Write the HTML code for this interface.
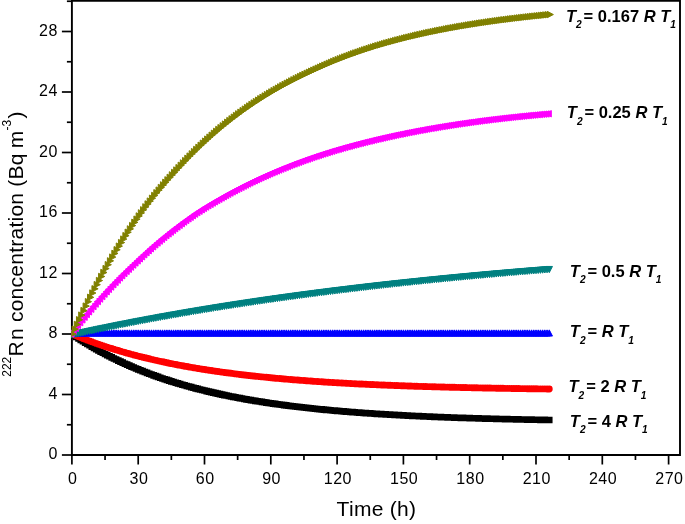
<!DOCTYPE html>
<html><head><meta charset="utf-8"><title>Rn concentration</title>
<style>html,body{margin:0;padding:0;background:#fff}svg{display:block}</style></head>
<body>
<svg width="685" height="524" viewBox="0 0 685 524">
<rect width="685" height="524" fill="#fff"/>
<g stroke="#000" stroke-width="1.9" fill="none" stroke-linecap="butt">
<path d="M71.9 455.95V0.8H680.0V455.0H70.95"/>
<path stroke-width="1.7" d="M71.9 455.00h-10"/>
<path stroke-width="1.7" d="M71.9 424.75h-5"/>
<path stroke-width="1.7" d="M71.9 394.50h-10"/>
<path stroke-width="1.7" d="M71.9 364.25h-5"/>
<path stroke-width="1.7" d="M71.9 334.00h-10"/>
<path stroke-width="1.7" d="M71.9 303.75h-5"/>
<path stroke-width="1.7" d="M71.9 273.50h-10"/>
<path stroke-width="1.7" d="M71.9 243.25h-5"/>
<path stroke-width="1.7" d="M71.9 213.00h-10"/>
<path stroke-width="1.7" d="M71.9 182.75h-5"/>
<path stroke-width="1.7" d="M71.9 152.50h-10"/>
<path stroke-width="1.7" d="M71.9 122.25h-5"/>
<path stroke-width="1.7" d="M71.9 92.00h-10"/>
<path stroke-width="1.7" d="M71.9 61.75h-5"/>
<path stroke-width="1.7" d="M71.9 31.50h-10"/>
<path stroke-width="1.7" d="M71.9 1.25h-5"/>
<path stroke-width="1.7" d="M71.90 455.0v9.5"/>
<path stroke-width="1.7" d="M71.90 0.8v-9.5"/>
<path stroke-width="1.7" d="M105.05 455.0v5"/>
<path stroke-width="1.7" d="M105.05 0.8v-5"/>
<path stroke-width="1.7" d="M138.20 455.0v9.5"/>
<path stroke-width="1.7" d="M138.20 0.8v-9.5"/>
<path stroke-width="1.7" d="M171.35 455.0v5"/>
<path stroke-width="1.7" d="M171.35 0.8v-5"/>
<path stroke-width="1.7" d="M204.50 455.0v9.5"/>
<path stroke-width="1.7" d="M204.50 0.8v-9.5"/>
<path stroke-width="1.7" d="M237.65 455.0v5"/>
<path stroke-width="1.7" d="M237.65 0.8v-5"/>
<path stroke-width="1.7" d="M270.80 455.0v9.5"/>
<path stroke-width="1.7" d="M270.80 0.8v-9.5"/>
<path stroke-width="1.7" d="M303.95 455.0v5"/>
<path stroke-width="1.7" d="M303.95 0.8v-5"/>
<path stroke-width="1.7" d="M337.10 455.0v9.5"/>
<path stroke-width="1.7" d="M337.10 0.8v-9.5"/>
<path stroke-width="1.7" d="M370.25 455.0v5"/>
<path stroke-width="1.7" d="M370.25 0.8v-5"/>
<path stroke-width="1.7" d="M403.40 455.0v9.5"/>
<path stroke-width="1.7" d="M403.40 0.8v-9.5"/>
<path stroke-width="1.7" d="M436.55 455.0v5"/>
<path stroke-width="1.7" d="M436.55 0.8v-5"/>
<path stroke-width="1.7" d="M469.70 455.0v9.5"/>
<path stroke-width="1.7" d="M469.70 0.8v-9.5"/>
<path stroke-width="1.7" d="M502.85 455.0v5"/>
<path stroke-width="1.7" d="M502.85 0.8v-5"/>
<path stroke-width="1.7" d="M536.00 455.0v9.5"/>
<path stroke-width="1.7" d="M536.00 0.8v-9.5"/>
<path stroke-width="1.7" d="M569.15 455.0v5"/>
<path stroke-width="1.7" d="M569.15 0.8v-5"/>
<path stroke-width="1.7" d="M602.30 455.0v9.5"/>
<path stroke-width="1.7" d="M602.30 0.8v-9.5"/>
<path stroke-width="1.7" d="M635.45 455.0v5"/>
<path stroke-width="1.7" d="M635.45 0.8v-5"/>
<path stroke-width="1.7" d="M668.60 455.0v9.5"/>
<path stroke-width="1.7" d="M668.60 0.8v-9.5"/>
</g>
<defs><clipPath id="pc"><rect x="71.2" y="0" width="608.8" height="455.0"/></clipPath></defs>
<path fill="#000000" stroke="#000000" stroke-width="0" stroke-linejoin="round" clip-path="url(#pc)" d="M68.60 330.70h6.6v6.6h-6.6zM70.81 332.20h6.6v6.6h-6.6zM73.02 333.66h6.6v6.6h-6.6zM75.23 335.11h6.6v6.6h-6.6zM77.44 336.53h6.6v6.6h-6.6zM79.65 337.93h6.6v6.6h-6.6zM81.86 339.30h6.6v6.6h-6.6zM84.07 340.65h6.6v6.6h-6.6zM86.28 341.97h6.6v6.6h-6.6zM88.49 343.28h6.6v6.6h-6.6zM90.70 344.56h6.6v6.6h-6.6zM92.91 345.82h6.6v6.6h-6.6zM95.12 347.06h6.6v6.6h-6.6zM97.33 348.28h6.6v6.6h-6.6zM99.54 349.47h6.6v6.6h-6.6zM101.75 350.65h6.6v6.6h-6.6zM103.96 351.81h6.6v6.6h-6.6zM106.17 352.94h6.6v6.6h-6.6zM108.38 354.06h6.6v6.6h-6.6zM110.59 355.16h6.6v6.6h-6.6zM112.80 356.24h6.6v6.6h-6.6zM115.01 357.30h6.6v6.6h-6.6zM117.22 358.35h6.6v6.6h-6.6zM119.43 359.37h6.6v6.6h-6.6zM121.64 360.38h6.6v6.6h-6.6zM123.85 361.37h6.6v6.6h-6.6zM126.06 362.35h6.6v6.6h-6.6zM128.27 363.31h6.6v6.6h-6.6zM130.48 364.25h6.6v6.6h-6.6zM132.69 365.18h6.6v6.6h-6.6zM134.90 366.09h6.6v6.6h-6.6zM137.11 366.98h6.6v6.6h-6.6zM139.32 367.86h6.6v6.6h-6.6zM141.53 368.73h6.6v6.6h-6.6zM143.74 369.58h6.6v6.6h-6.6zM145.95 370.41h6.6v6.6h-6.6zM148.16 371.23h6.6v6.6h-6.6zM150.37 372.04h6.6v6.6h-6.6zM152.58 372.84h6.6v6.6h-6.6zM154.79 373.62h6.6v6.6h-6.6zM157.00 374.38h6.6v6.6h-6.6zM159.21 375.14h6.6v6.6h-6.6zM161.42 375.88h6.6v6.6h-6.6zM163.63 376.61h6.6v6.6h-6.6zM165.84 377.33h6.6v6.6h-6.6zM168.05 378.03h6.6v6.6h-6.6zM170.26 378.72h6.6v6.6h-6.6zM172.47 379.40h6.6v6.6h-6.6zM174.68 380.07h6.6v6.6h-6.6zM176.89 380.73h6.6v6.6h-6.6zM179.10 381.38h6.6v6.6h-6.6zM181.31 382.01h6.6v6.6h-6.6zM183.52 382.64h6.6v6.6h-6.6zM185.73 383.25h6.6v6.6h-6.6zM187.94 383.86h6.6v6.6h-6.6zM190.15 384.45h6.6v6.6h-6.6zM192.36 385.03h6.6v6.6h-6.6zM194.57 385.61h6.6v6.6h-6.6zM196.78 386.17h6.6v6.6h-6.6zM198.99 386.73h6.6v6.6h-6.6zM201.20 387.27h6.6v6.6h-6.6zM203.41 387.81h6.6v6.6h-6.6zM205.62 388.33h6.6v6.6h-6.6zM207.83 388.85h6.6v6.6h-6.6zM210.04 389.36h6.6v6.6h-6.6zM212.25 389.86h6.6v6.6h-6.6zM214.46 390.35h6.6v6.6h-6.6zM216.67 390.84h6.6v6.6h-6.6zM218.88 391.31h6.6v6.6h-6.6zM221.09 391.78h6.6v6.6h-6.6zM223.30 392.24h6.6v6.6h-6.6zM225.51 392.69h6.6v6.6h-6.6zM227.72 393.14h6.6v6.6h-6.6zM229.93 393.57h6.6v6.6h-6.6zM232.14 394.00h6.6v6.6h-6.6zM234.35 394.42h6.6v6.6h-6.6zM236.56 394.84h6.6v6.6h-6.6zM238.77 395.25h6.6v6.6h-6.6zM240.98 395.65h6.6v6.6h-6.6zM243.19 396.04h6.6v6.6h-6.6zM245.40 396.43h6.6v6.6h-6.6zM247.61 396.81h6.6v6.6h-6.6zM249.82 397.18h6.6v6.6h-6.6zM252.03 397.55h6.6v6.6h-6.6zM254.24 397.91h6.6v6.6h-6.6zM256.45 398.27h6.6v6.6h-6.6zM258.66 398.62h6.6v6.6h-6.6zM260.87 398.96h6.6v6.6h-6.6zM263.08 399.30h6.6v6.6h-6.6zM265.29 399.63h6.6v6.6h-6.6zM267.50 399.96h6.6v6.6h-6.6zM269.71 400.28h6.6v6.6h-6.6zM271.92 400.59h6.6v6.6h-6.6zM274.13 400.90h6.6v6.6h-6.6zM276.34 401.21h6.6v6.6h-6.6zM278.55 401.51h6.6v6.6h-6.6zM280.76 401.80h6.6v6.6h-6.6zM282.97 402.09h6.6v6.6h-6.6zM285.18 402.38h6.6v6.6h-6.6zM287.39 402.66h6.6v6.6h-6.6zM289.60 402.93h6.6v6.6h-6.6zM291.81 403.20h6.6v6.6h-6.6zM294.02 403.47h6.6v6.6h-6.6zM296.23 403.73h6.6v6.6h-6.6zM298.44 403.98h6.6v6.6h-6.6zM300.65 404.24h6.6v6.6h-6.6zM302.86 404.49h6.6v6.6h-6.6zM305.07 404.73h6.6v6.6h-6.6zM307.28 404.97h6.6v6.6h-6.6zM309.49 405.21h6.6v6.6h-6.6zM311.70 405.44h6.6v6.6h-6.6zM313.91 405.66h6.6v6.6h-6.6zM316.12 405.89h6.6v6.6h-6.6zM318.33 406.11h6.6v6.6h-6.6zM320.54 406.33h6.6v6.6h-6.6zM322.75 406.54h6.6v6.6h-6.6zM324.96 406.75h6.6v6.6h-6.6zM327.17 406.95h6.6v6.6h-6.6zM329.38 407.16h6.6v6.6h-6.6zM331.59 407.35h6.6v6.6h-6.6zM333.80 407.55h6.6v6.6h-6.6zM336.01 407.74h6.6v6.6h-6.6zM338.22 407.93h6.6v6.6h-6.6zM340.43 408.12h6.6v6.6h-6.6zM342.64 408.30h6.6v6.6h-6.6zM344.85 408.48h6.6v6.6h-6.6zM347.06 408.65h6.6v6.6h-6.6zM349.27 408.83h6.6v6.6h-6.6zM351.48 409.00h6.6v6.6h-6.6zM353.69 409.17h6.6v6.6h-6.6zM355.90 409.33h6.6v6.6h-6.6zM358.11 409.49h6.6v6.6h-6.6zM360.32 409.65h6.6v6.6h-6.6zM362.53 409.81h6.6v6.6h-6.6zM364.74 409.96h6.6v6.6h-6.6zM366.95 410.11h6.6v6.6h-6.6zM369.16 410.26h6.6v6.6h-6.6zM371.37 410.41h6.6v6.6h-6.6zM373.58 410.55h6.6v6.6h-6.6zM375.79 410.69h6.6v6.6h-6.6zM378.00 410.83h6.6v6.6h-6.6zM380.21 410.97h6.6v6.6h-6.6zM382.42 411.10h6.6v6.6h-6.6zM384.63 411.23h6.6v6.6h-6.6zM386.84 411.36h6.6v6.6h-6.6zM389.05 411.49h6.6v6.6h-6.6zM391.26 411.62h6.6v6.6h-6.6zM393.47 411.74h6.6v6.6h-6.6zM395.68 411.86h6.6v6.6h-6.6zM397.89 411.98h6.6v6.6h-6.6zM400.10 412.10h6.6v6.6h-6.6zM402.31 412.21h6.6v6.6h-6.6zM404.52 412.32h6.6v6.6h-6.6zM406.73 412.44h6.6v6.6h-6.6zM408.94 412.54h6.6v6.6h-6.6zM411.15 412.65h6.6v6.6h-6.6zM413.36 412.76h6.6v6.6h-6.6zM415.57 412.86h6.6v6.6h-6.6zM417.78 412.96h6.6v6.6h-6.6zM419.99 413.06h6.6v6.6h-6.6zM422.20 413.16h6.6v6.6h-6.6zM424.41 413.26h6.6v6.6h-6.6zM426.62 413.35h6.6v6.6h-6.6zM428.83 413.45h6.6v6.6h-6.6zM431.04 413.54h6.6v6.6h-6.6zM433.25 413.63h6.6v6.6h-6.6zM435.46 413.72h6.6v6.6h-6.6zM437.67 413.81h6.6v6.6h-6.6zM439.88 413.89h6.6v6.6h-6.6zM442.09 413.98h6.6v6.6h-6.6zM444.30 414.06h6.6v6.6h-6.6zM446.51 414.14h6.6v6.6h-6.6zM448.72 414.22h6.6v6.6h-6.6zM450.93 414.30h6.6v6.6h-6.6zM453.14 414.38h6.6v6.6h-6.6zM455.35 414.46h6.6v6.6h-6.6zM457.56 414.53h6.6v6.6h-6.6zM459.77 414.60h6.6v6.6h-6.6zM461.98 414.68h6.6v6.6h-6.6zM464.19 414.75h6.6v6.6h-6.6zM466.40 414.82h6.6v6.6h-6.6zM468.61 414.89h6.6v6.6h-6.6zM470.82 414.95h6.6v6.6h-6.6zM473.03 415.02h6.6v6.6h-6.6zM475.24 415.09h6.6v6.6h-6.6zM477.45 415.15h6.6v6.6h-6.6zM479.66 415.21h6.6v6.6h-6.6zM481.87 415.28h6.6v6.6h-6.6zM484.08 415.34h6.6v6.6h-6.6zM486.29 415.40h6.6v6.6h-6.6zM488.50 415.46h6.6v6.6h-6.6zM490.71 415.51h6.6v6.6h-6.6zM492.92 415.57h6.6v6.6h-6.6zM495.13 415.63h6.6v6.6h-6.6zM497.34 415.68h6.6v6.6h-6.6zM499.55 415.74h6.6v6.6h-6.6zM501.76 415.79h6.6v6.6h-6.6zM503.97 415.84h6.6v6.6h-6.6zM506.18 415.89h6.6v6.6h-6.6zM508.39 415.94h6.6v6.6h-6.6zM510.60 415.99h6.6v6.6h-6.6zM512.81 416.04h6.6v6.6h-6.6zM515.02 416.09h6.6v6.6h-6.6zM517.23 416.14h6.6v6.6h-6.6zM519.44 416.18h6.6v6.6h-6.6zM521.65 416.23h6.6v6.6h-6.6zM523.86 416.28h6.6v6.6h-6.6zM526.07 416.32h6.6v6.6h-6.6zM528.28 416.36h6.6v6.6h-6.6zM530.49 416.41h6.6v6.6h-6.6zM532.70 416.45h6.6v6.6h-6.6zM534.91 416.49h6.6v6.6h-6.6zM537.12 416.53h6.6v6.6h-6.6zM539.33 416.57h6.6v6.6h-6.6zM541.54 416.61h6.6v6.6h-6.6zM543.75 416.65h6.6v6.6h-6.6zM545.96 416.68h6.6v6.6h-6.6z"/>
<path fill="#ff0000" stroke="#ff0000" stroke-width="0" stroke-linejoin="round" clip-path="url(#pc)" d="M68.45 334.00a3.45 3.45 0 1 0 6.9 0a3.45 3.45 0 1 0 -6.9 0zM70.66 334.93a3.45 3.45 0 1 0 6.9 0a3.45 3.45 0 1 0 -6.9 0zM72.87 335.84a3.45 3.45 0 1 0 6.9 0a3.45 3.45 0 1 0 -6.9 0zM75.08 336.73a3.45 3.45 0 1 0 6.9 0a3.45 3.45 0 1 0 -6.9 0zM77.29 337.61a3.45 3.45 0 1 0 6.9 0a3.45 3.45 0 1 0 -6.9 0zM79.50 338.48a3.45 3.45 0 1 0 6.9 0a3.45 3.45 0 1 0 -6.9 0zM81.71 339.33a3.45 3.45 0 1 0 6.9 0a3.45 3.45 0 1 0 -6.9 0zM83.92 340.17a3.45 3.45 0 1 0 6.9 0a3.45 3.45 0 1 0 -6.9 0zM86.13 341.00a3.45 3.45 0 1 0 6.9 0a3.45 3.45 0 1 0 -6.9 0zM88.34 341.81a3.45 3.45 0 1 0 6.9 0a3.45 3.45 0 1 0 -6.9 0zM90.55 342.60a3.45 3.45 0 1 0 6.9 0a3.45 3.45 0 1 0 -6.9 0zM92.76 343.39a3.45 3.45 0 1 0 6.9 0a3.45 3.45 0 1 0 -6.9 0zM94.97 344.16a3.45 3.45 0 1 0 6.9 0a3.45 3.45 0 1 0 -6.9 0zM97.18 344.92a3.45 3.45 0 1 0 6.9 0a3.45 3.45 0 1 0 -6.9 0zM99.39 345.67a3.45 3.45 0 1 0 6.9 0a3.45 3.45 0 1 0 -6.9 0zM101.60 346.40a3.45 3.45 0 1 0 6.9 0a3.45 3.45 0 1 0 -6.9 0zM103.81 347.13a3.45 3.45 0 1 0 6.9 0a3.45 3.45 0 1 0 -6.9 0zM106.02 347.84a3.45 3.45 0 1 0 6.9 0a3.45 3.45 0 1 0 -6.9 0zM108.23 348.54a3.45 3.45 0 1 0 6.9 0a3.45 3.45 0 1 0 -6.9 0zM110.44 349.22a3.45 3.45 0 1 0 6.9 0a3.45 3.45 0 1 0 -6.9 0zM112.65 349.90a3.45 3.45 0 1 0 6.9 0a3.45 3.45 0 1 0 -6.9 0zM114.86 350.57a3.45 3.45 0 1 0 6.9 0a3.45 3.45 0 1 0 -6.9 0zM117.07 351.22a3.45 3.45 0 1 0 6.9 0a3.45 3.45 0 1 0 -6.9 0zM119.28 351.86a3.45 3.45 0 1 0 6.9 0a3.45 3.45 0 1 0 -6.9 0zM121.49 352.50a3.45 3.45 0 1 0 6.9 0a3.45 3.45 0 1 0 -6.9 0zM123.70 353.12a3.45 3.45 0 1 0 6.9 0a3.45 3.45 0 1 0 -6.9 0zM125.91 353.73a3.45 3.45 0 1 0 6.9 0a3.45 3.45 0 1 0 -6.9 0zM128.12 354.34a3.45 3.45 0 1 0 6.9 0a3.45 3.45 0 1 0 -6.9 0zM130.33 354.93a3.45 3.45 0 1 0 6.9 0a3.45 3.45 0 1 0 -6.9 0zM132.54 355.51a3.45 3.45 0 1 0 6.9 0a3.45 3.45 0 1 0 -6.9 0zM134.75 356.09a3.45 3.45 0 1 0 6.9 0a3.45 3.45 0 1 0 -6.9 0zM136.96 356.65a3.45 3.45 0 1 0 6.9 0a3.45 3.45 0 1 0 -6.9 0zM139.17 357.20a3.45 3.45 0 1 0 6.9 0a3.45 3.45 0 1 0 -6.9 0zM141.38 357.75a3.45 3.45 0 1 0 6.9 0a3.45 3.45 0 1 0 -6.9 0zM143.59 358.29a3.45 3.45 0 1 0 6.9 0a3.45 3.45 0 1 0 -6.9 0zM145.80 358.82a3.45 3.45 0 1 0 6.9 0a3.45 3.45 0 1 0 -6.9 0zM148.01 359.34a3.45 3.45 0 1 0 6.9 0a3.45 3.45 0 1 0 -6.9 0zM150.22 359.85a3.45 3.45 0 1 0 6.9 0a3.45 3.45 0 1 0 -6.9 0zM152.43 360.35a3.45 3.45 0 1 0 6.9 0a3.45 3.45 0 1 0 -6.9 0zM154.64 360.84a3.45 3.45 0 1 0 6.9 0a3.45 3.45 0 1 0 -6.9 0zM156.85 361.33a3.45 3.45 0 1 0 6.9 0a3.45 3.45 0 1 0 -6.9 0zM159.06 361.81a3.45 3.45 0 1 0 6.9 0a3.45 3.45 0 1 0 -6.9 0zM161.27 362.28a3.45 3.45 0 1 0 6.9 0a3.45 3.45 0 1 0 -6.9 0zM163.48 362.74a3.45 3.45 0 1 0 6.9 0a3.45 3.45 0 1 0 -6.9 0zM165.69 363.20a3.45 3.45 0 1 0 6.9 0a3.45 3.45 0 1 0 -6.9 0zM167.90 363.65a3.45 3.45 0 1 0 6.9 0a3.45 3.45 0 1 0 -6.9 0zM170.11 364.09a3.45 3.45 0 1 0 6.9 0a3.45 3.45 0 1 0 -6.9 0zM172.32 364.52a3.45 3.45 0 1 0 6.9 0a3.45 3.45 0 1 0 -6.9 0zM174.53 364.95a3.45 3.45 0 1 0 6.9 0a3.45 3.45 0 1 0 -6.9 0zM176.74 365.37a3.45 3.45 0 1 0 6.9 0a3.45 3.45 0 1 0 -6.9 0zM178.95 365.78a3.45 3.45 0 1 0 6.9 0a3.45 3.45 0 1 0 -6.9 0zM181.16 366.18a3.45 3.45 0 1 0 6.9 0a3.45 3.45 0 1 0 -6.9 0zM183.37 366.58a3.45 3.45 0 1 0 6.9 0a3.45 3.45 0 1 0 -6.9 0zM185.58 366.97a3.45 3.45 0 1 0 6.9 0a3.45 3.45 0 1 0 -6.9 0zM187.79 367.36a3.45 3.45 0 1 0 6.9 0a3.45 3.45 0 1 0 -6.9 0zM190.00 367.74a3.45 3.45 0 1 0 6.9 0a3.45 3.45 0 1 0 -6.9 0zM192.21 368.11a3.45 3.45 0 1 0 6.9 0a3.45 3.45 0 1 0 -6.9 0zM194.42 368.48a3.45 3.45 0 1 0 6.9 0a3.45 3.45 0 1 0 -6.9 0zM196.63 368.84a3.45 3.45 0 1 0 6.9 0a3.45 3.45 0 1 0 -6.9 0zM198.84 369.20a3.45 3.45 0 1 0 6.9 0a3.45 3.45 0 1 0 -6.9 0zM201.05 369.55a3.45 3.45 0 1 0 6.9 0a3.45 3.45 0 1 0 -6.9 0zM203.26 369.89a3.45 3.45 0 1 0 6.9 0a3.45 3.45 0 1 0 -6.9 0zM205.47 370.23a3.45 3.45 0 1 0 6.9 0a3.45 3.45 0 1 0 -6.9 0zM207.68 370.56a3.45 3.45 0 1 0 6.9 0a3.45 3.45 0 1 0 -6.9 0zM209.89 370.89a3.45 3.45 0 1 0 6.9 0a3.45 3.45 0 1 0 -6.9 0zM212.10 371.21a3.45 3.45 0 1 0 6.9 0a3.45 3.45 0 1 0 -6.9 0zM214.31 371.53a3.45 3.45 0 1 0 6.9 0a3.45 3.45 0 1 0 -6.9 0zM216.52 371.84a3.45 3.45 0 1 0 6.9 0a3.45 3.45 0 1 0 -6.9 0zM218.73 372.15a3.45 3.45 0 1 0 6.9 0a3.45 3.45 0 1 0 -6.9 0zM220.94 372.45a3.45 3.45 0 1 0 6.9 0a3.45 3.45 0 1 0 -6.9 0zM223.15 372.75a3.45 3.45 0 1 0 6.9 0a3.45 3.45 0 1 0 -6.9 0zM225.36 373.04a3.45 3.45 0 1 0 6.9 0a3.45 3.45 0 1 0 -6.9 0zM227.57 373.32a3.45 3.45 0 1 0 6.9 0a3.45 3.45 0 1 0 -6.9 0zM229.78 373.61a3.45 3.45 0 1 0 6.9 0a3.45 3.45 0 1 0 -6.9 0zM231.99 373.88a3.45 3.45 0 1 0 6.9 0a3.45 3.45 0 1 0 -6.9 0zM234.20 374.16a3.45 3.45 0 1 0 6.9 0a3.45 3.45 0 1 0 -6.9 0zM236.41 374.43a3.45 3.45 0 1 0 6.9 0a3.45 3.45 0 1 0 -6.9 0zM238.62 374.69a3.45 3.45 0 1 0 6.9 0a3.45 3.45 0 1 0 -6.9 0zM240.83 374.95a3.45 3.45 0 1 0 6.9 0a3.45 3.45 0 1 0 -6.9 0zM243.04 375.20a3.45 3.45 0 1 0 6.9 0a3.45 3.45 0 1 0 -6.9 0zM245.25 375.46a3.45 3.45 0 1 0 6.9 0a3.45 3.45 0 1 0 -6.9 0zM247.46 375.70a3.45 3.45 0 1 0 6.9 0a3.45 3.45 0 1 0 -6.9 0zM249.67 375.95a3.45 3.45 0 1 0 6.9 0a3.45 3.45 0 1 0 -6.9 0zM251.88 376.19a3.45 3.45 0 1 0 6.9 0a3.45 3.45 0 1 0 -6.9 0zM254.09 376.42a3.45 3.45 0 1 0 6.9 0a3.45 3.45 0 1 0 -6.9 0zM256.30 376.65a3.45 3.45 0 1 0 6.9 0a3.45 3.45 0 1 0 -6.9 0zM258.51 376.88a3.45 3.45 0 1 0 6.9 0a3.45 3.45 0 1 0 -6.9 0zM260.72 377.10a3.45 3.45 0 1 0 6.9 0a3.45 3.45 0 1 0 -6.9 0zM262.93 377.32a3.45 3.45 0 1 0 6.9 0a3.45 3.45 0 1 0 -6.9 0zM265.14 377.54a3.45 3.45 0 1 0 6.9 0a3.45 3.45 0 1 0 -6.9 0zM267.35 377.75a3.45 3.45 0 1 0 6.9 0a3.45 3.45 0 1 0 -6.9 0zM269.56 377.96a3.45 3.45 0 1 0 6.9 0a3.45 3.45 0 1 0 -6.9 0zM271.77 378.17a3.45 3.45 0 1 0 6.9 0a3.45 3.45 0 1 0 -6.9 0zM273.98 378.37a3.45 3.45 0 1 0 6.9 0a3.45 3.45 0 1 0 -6.9 0zM276.19 378.57a3.45 3.45 0 1 0 6.9 0a3.45 3.45 0 1 0 -6.9 0zM278.40 378.77a3.45 3.45 0 1 0 6.9 0a3.45 3.45 0 1 0 -6.9 0zM280.61 378.96a3.45 3.45 0 1 0 6.9 0a3.45 3.45 0 1 0 -6.9 0zM282.82 379.15a3.45 3.45 0 1 0 6.9 0a3.45 3.45 0 1 0 -6.9 0zM285.03 379.34a3.45 3.45 0 1 0 6.9 0a3.45 3.45 0 1 0 -6.9 0zM287.24 379.52a3.45 3.45 0 1 0 6.9 0a3.45 3.45 0 1 0 -6.9 0zM289.45 379.70a3.45 3.45 0 1 0 6.9 0a3.45 3.45 0 1 0 -6.9 0zM291.66 379.88a3.45 3.45 0 1 0 6.9 0a3.45 3.45 0 1 0 -6.9 0zM293.87 380.06a3.45 3.45 0 1 0 6.9 0a3.45 3.45 0 1 0 -6.9 0zM296.08 380.23a3.45 3.45 0 1 0 6.9 0a3.45 3.45 0 1 0 -6.9 0zM298.29 380.40a3.45 3.45 0 1 0 6.9 0a3.45 3.45 0 1 0 -6.9 0zM300.50 380.56a3.45 3.45 0 1 0 6.9 0a3.45 3.45 0 1 0 -6.9 0zM302.71 380.73a3.45 3.45 0 1 0 6.9 0a3.45 3.45 0 1 0 -6.9 0zM304.92 380.89a3.45 3.45 0 1 0 6.9 0a3.45 3.45 0 1 0 -6.9 0zM307.13 381.05a3.45 3.45 0 1 0 6.9 0a3.45 3.45 0 1 0 -6.9 0zM309.34 381.20a3.45 3.45 0 1 0 6.9 0a3.45 3.45 0 1 0 -6.9 0zM311.55 381.36a3.45 3.45 0 1 0 6.9 0a3.45 3.45 0 1 0 -6.9 0zM313.76 381.51a3.45 3.45 0 1 0 6.9 0a3.45 3.45 0 1 0 -6.9 0zM315.97 381.66a3.45 3.45 0 1 0 6.9 0a3.45 3.45 0 1 0 -6.9 0zM318.18 381.80a3.45 3.45 0 1 0 6.9 0a3.45 3.45 0 1 0 -6.9 0zM320.39 381.94a3.45 3.45 0 1 0 6.9 0a3.45 3.45 0 1 0 -6.9 0zM322.60 382.09a3.45 3.45 0 1 0 6.9 0a3.45 3.45 0 1 0 -6.9 0zM324.81 382.22a3.45 3.45 0 1 0 6.9 0a3.45 3.45 0 1 0 -6.9 0zM327.02 382.36a3.45 3.45 0 1 0 6.9 0a3.45 3.45 0 1 0 -6.9 0zM329.23 382.50a3.45 3.45 0 1 0 6.9 0a3.45 3.45 0 1 0 -6.9 0zM331.44 382.63a3.45 3.45 0 1 0 6.9 0a3.45 3.45 0 1 0 -6.9 0zM333.65 382.76a3.45 3.45 0 1 0 6.9 0a3.45 3.45 0 1 0 -6.9 0zM335.86 382.89a3.45 3.45 0 1 0 6.9 0a3.45 3.45 0 1 0 -6.9 0zM338.07 383.01a3.45 3.45 0 1 0 6.9 0a3.45 3.45 0 1 0 -6.9 0zM340.28 383.13a3.45 3.45 0 1 0 6.9 0a3.45 3.45 0 1 0 -6.9 0zM342.49 383.26a3.45 3.45 0 1 0 6.9 0a3.45 3.45 0 1 0 -6.9 0zM344.70 383.38a3.45 3.45 0 1 0 6.9 0a3.45 3.45 0 1 0 -6.9 0zM346.91 383.49a3.45 3.45 0 1 0 6.9 0a3.45 3.45 0 1 0 -6.9 0zM349.12 383.61a3.45 3.45 0 1 0 6.9 0a3.45 3.45 0 1 0 -6.9 0zM351.33 383.72a3.45 3.45 0 1 0 6.9 0a3.45 3.45 0 1 0 -6.9 0zM353.54 383.84a3.45 3.45 0 1 0 6.9 0a3.45 3.45 0 1 0 -6.9 0zM355.75 383.95a3.45 3.45 0 1 0 6.9 0a3.45 3.45 0 1 0 -6.9 0zM357.96 384.05a3.45 3.45 0 1 0 6.9 0a3.45 3.45 0 1 0 -6.9 0zM360.17 384.16a3.45 3.45 0 1 0 6.9 0a3.45 3.45 0 1 0 -6.9 0zM362.38 384.27a3.45 3.45 0 1 0 6.9 0a3.45 3.45 0 1 0 -6.9 0zM364.59 384.37a3.45 3.45 0 1 0 6.9 0a3.45 3.45 0 1 0 -6.9 0zM366.80 384.47a3.45 3.45 0 1 0 6.9 0a3.45 3.45 0 1 0 -6.9 0zM369.01 384.57a3.45 3.45 0 1 0 6.9 0a3.45 3.45 0 1 0 -6.9 0zM371.22 384.67a3.45 3.45 0 1 0 6.9 0a3.45 3.45 0 1 0 -6.9 0zM373.43 384.76a3.45 3.45 0 1 0 6.9 0a3.45 3.45 0 1 0 -6.9 0zM375.64 384.86a3.45 3.45 0 1 0 6.9 0a3.45 3.45 0 1 0 -6.9 0zM377.85 384.95a3.45 3.45 0 1 0 6.9 0a3.45 3.45 0 1 0 -6.9 0zM380.06 385.04a3.45 3.45 0 1 0 6.9 0a3.45 3.45 0 1 0 -6.9 0zM382.27 385.13a3.45 3.45 0 1 0 6.9 0a3.45 3.45 0 1 0 -6.9 0zM384.48 385.22a3.45 3.45 0 1 0 6.9 0a3.45 3.45 0 1 0 -6.9 0zM386.69 385.31a3.45 3.45 0 1 0 6.9 0a3.45 3.45 0 1 0 -6.9 0zM388.90 385.40a3.45 3.45 0 1 0 6.9 0a3.45 3.45 0 1 0 -6.9 0zM391.11 385.48a3.45 3.45 0 1 0 6.9 0a3.45 3.45 0 1 0 -6.9 0zM393.32 385.57a3.45 3.45 0 1 0 6.9 0a3.45 3.45 0 1 0 -6.9 0zM395.53 385.65a3.45 3.45 0 1 0 6.9 0a3.45 3.45 0 1 0 -6.9 0zM397.74 385.73a3.45 3.45 0 1 0 6.9 0a3.45 3.45 0 1 0 -6.9 0zM399.95 385.81a3.45 3.45 0 1 0 6.9 0a3.45 3.45 0 1 0 -6.9 0zM402.16 385.88a3.45 3.45 0 1 0 6.9 0a3.45 3.45 0 1 0 -6.9 0zM404.37 385.96a3.45 3.45 0 1 0 6.9 0a3.45 3.45 0 1 0 -6.9 0zM406.58 386.04a3.45 3.45 0 1 0 6.9 0a3.45 3.45 0 1 0 -6.9 0zM408.79 386.11a3.45 3.45 0 1 0 6.9 0a3.45 3.45 0 1 0 -6.9 0zM411.00 386.18a3.45 3.45 0 1 0 6.9 0a3.45 3.45 0 1 0 -6.9 0zM413.21 386.26a3.45 3.45 0 1 0 6.9 0a3.45 3.45 0 1 0 -6.9 0zM415.42 386.33a3.45 3.45 0 1 0 6.9 0a3.45 3.45 0 1 0 -6.9 0zM417.63 386.40a3.45 3.45 0 1 0 6.9 0a3.45 3.45 0 1 0 -6.9 0zM419.84 386.46a3.45 3.45 0 1 0 6.9 0a3.45 3.45 0 1 0 -6.9 0zM422.05 386.53a3.45 3.45 0 1 0 6.9 0a3.45 3.45 0 1 0 -6.9 0zM424.26 386.60a3.45 3.45 0 1 0 6.9 0a3.45 3.45 0 1 0 -6.9 0zM426.47 386.66a3.45 3.45 0 1 0 6.9 0a3.45 3.45 0 1 0 -6.9 0zM428.68 386.73a3.45 3.45 0 1 0 6.9 0a3.45 3.45 0 1 0 -6.9 0zM430.89 386.79a3.45 3.45 0 1 0 6.9 0a3.45 3.45 0 1 0 -6.9 0zM433.10 386.85a3.45 3.45 0 1 0 6.9 0a3.45 3.45 0 1 0 -6.9 0zM435.31 386.91a3.45 3.45 0 1 0 6.9 0a3.45 3.45 0 1 0 -6.9 0zM437.52 386.97a3.45 3.45 0 1 0 6.9 0a3.45 3.45 0 1 0 -6.9 0zM439.73 387.03a3.45 3.45 0 1 0 6.9 0a3.45 3.45 0 1 0 -6.9 0zM441.94 387.09a3.45 3.45 0 1 0 6.9 0a3.45 3.45 0 1 0 -6.9 0zM444.15 387.14a3.45 3.45 0 1 0 6.9 0a3.45 3.45 0 1 0 -6.9 0zM446.36 387.20a3.45 3.45 0 1 0 6.9 0a3.45 3.45 0 1 0 -6.9 0zM448.57 387.26a3.45 3.45 0 1 0 6.9 0a3.45 3.45 0 1 0 -6.9 0zM450.78 387.31a3.45 3.45 0 1 0 6.9 0a3.45 3.45 0 1 0 -6.9 0zM452.99 387.36a3.45 3.45 0 1 0 6.9 0a3.45 3.45 0 1 0 -6.9 0zM455.20 387.42a3.45 3.45 0 1 0 6.9 0a3.45 3.45 0 1 0 -6.9 0zM457.41 387.47a3.45 3.45 0 1 0 6.9 0a3.45 3.45 0 1 0 -6.9 0zM459.62 387.52a3.45 3.45 0 1 0 6.9 0a3.45 3.45 0 1 0 -6.9 0zM461.83 387.57a3.45 3.45 0 1 0 6.9 0a3.45 3.45 0 1 0 -6.9 0zM464.04 387.62a3.45 3.45 0 1 0 6.9 0a3.45 3.45 0 1 0 -6.9 0zM466.25 387.67a3.45 3.45 0 1 0 6.9 0a3.45 3.45 0 1 0 -6.9 0zM468.46 387.71a3.45 3.45 0 1 0 6.9 0a3.45 3.45 0 1 0 -6.9 0zM470.67 387.76a3.45 3.45 0 1 0 6.9 0a3.45 3.45 0 1 0 -6.9 0zM472.88 387.81a3.45 3.45 0 1 0 6.9 0a3.45 3.45 0 1 0 -6.9 0zM475.09 387.85a3.45 3.45 0 1 0 6.9 0a3.45 3.45 0 1 0 -6.9 0zM477.30 387.90a3.45 3.45 0 1 0 6.9 0a3.45 3.45 0 1 0 -6.9 0zM479.51 387.94a3.45 3.45 0 1 0 6.9 0a3.45 3.45 0 1 0 -6.9 0zM481.72 387.98a3.45 3.45 0 1 0 6.9 0a3.45 3.45 0 1 0 -6.9 0zM483.93 388.02a3.45 3.45 0 1 0 6.9 0a3.45 3.45 0 1 0 -6.9 0zM486.14 388.07a3.45 3.45 0 1 0 6.9 0a3.45 3.45 0 1 0 -6.9 0zM488.35 388.11a3.45 3.45 0 1 0 6.9 0a3.45 3.45 0 1 0 -6.9 0zM490.56 388.15a3.45 3.45 0 1 0 6.9 0a3.45 3.45 0 1 0 -6.9 0zM492.77 388.19a3.45 3.45 0 1 0 6.9 0a3.45 3.45 0 1 0 -6.9 0zM494.98 388.23a3.45 3.45 0 1 0 6.9 0a3.45 3.45 0 1 0 -6.9 0zM497.19 388.26a3.45 3.45 0 1 0 6.9 0a3.45 3.45 0 1 0 -6.9 0zM499.40 388.30a3.45 3.45 0 1 0 6.9 0a3.45 3.45 0 1 0 -6.9 0zM501.61 388.34a3.45 3.45 0 1 0 6.9 0a3.45 3.45 0 1 0 -6.9 0zM503.82 388.38a3.45 3.45 0 1 0 6.9 0a3.45 3.45 0 1 0 -6.9 0zM506.03 388.41a3.45 3.45 0 1 0 6.9 0a3.45 3.45 0 1 0 -6.9 0zM508.24 388.45a3.45 3.45 0 1 0 6.9 0a3.45 3.45 0 1 0 -6.9 0zM510.45 388.48a3.45 3.45 0 1 0 6.9 0a3.45 3.45 0 1 0 -6.9 0zM512.66 388.52a3.45 3.45 0 1 0 6.9 0a3.45 3.45 0 1 0 -6.9 0zM514.87 388.55a3.45 3.45 0 1 0 6.9 0a3.45 3.45 0 1 0 -6.9 0zM517.08 388.58a3.45 3.45 0 1 0 6.9 0a3.45 3.45 0 1 0 -6.9 0zM519.29 388.61a3.45 3.45 0 1 0 6.9 0a3.45 3.45 0 1 0 -6.9 0zM521.50 388.65a3.45 3.45 0 1 0 6.9 0a3.45 3.45 0 1 0 -6.9 0zM523.71 388.68a3.45 3.45 0 1 0 6.9 0a3.45 3.45 0 1 0 -6.9 0zM525.92 388.71a3.45 3.45 0 1 0 6.9 0a3.45 3.45 0 1 0 -6.9 0zM528.13 388.74a3.45 3.45 0 1 0 6.9 0a3.45 3.45 0 1 0 -6.9 0zM530.34 388.77a3.45 3.45 0 1 0 6.9 0a3.45 3.45 0 1 0 -6.9 0zM532.55 388.80a3.45 3.45 0 1 0 6.9 0a3.45 3.45 0 1 0 -6.9 0zM534.76 388.83a3.45 3.45 0 1 0 6.9 0a3.45 3.45 0 1 0 -6.9 0zM536.97 388.86a3.45 3.45 0 1 0 6.9 0a3.45 3.45 0 1 0 -6.9 0zM539.18 388.88a3.45 3.45 0 1 0 6.9 0a3.45 3.45 0 1 0 -6.9 0zM541.39 388.91a3.45 3.45 0 1 0 6.9 0a3.45 3.45 0 1 0 -6.9 0zM543.60 388.94a3.45 3.45 0 1 0 6.9 0a3.45 3.45 0 1 0 -6.9 0zM545.81 388.97a3.45 3.45 0 1 0 6.9 0a3.45 3.45 0 1 0 -6.9 0z"/>
<path fill="#0000ff" stroke="#0000ff" stroke-width="1" stroke-linejoin="round" clip-path="url(#pc)" d="M68.70 336.07h6.4l-3.20 -6.20zM70.91 336.07h6.4l-3.20 -6.20zM73.12 336.07h6.4l-3.20 -6.20zM75.33 336.07h6.4l-3.20 -6.20zM77.54 336.07h6.4l-3.20 -6.20zM79.75 336.07h6.4l-3.20 -6.20zM81.96 336.07h6.4l-3.20 -6.20zM84.17 336.07h6.4l-3.20 -6.20zM86.38 336.07h6.4l-3.20 -6.20zM88.59 336.07h6.4l-3.20 -6.20zM90.80 336.07h6.4l-3.20 -6.20zM93.01 336.07h6.4l-3.20 -6.20zM95.22 336.07h6.4l-3.20 -6.20zM97.43 336.07h6.4l-3.20 -6.20zM99.64 336.07h6.4l-3.20 -6.20zM101.85 336.07h6.4l-3.20 -6.20zM104.06 336.07h6.4l-3.20 -6.20zM106.27 336.07h6.4l-3.20 -6.20zM108.48 336.07h6.4l-3.20 -6.20zM110.69 336.07h6.4l-3.20 -6.20zM112.90 336.07h6.4l-3.20 -6.20zM115.11 336.07h6.4l-3.20 -6.20zM117.32 336.07h6.4l-3.20 -6.20zM119.53 336.07h6.4l-3.20 -6.20zM121.74 336.07h6.4l-3.20 -6.20zM123.95 336.07h6.4l-3.20 -6.20zM126.16 336.07h6.4l-3.20 -6.20zM128.37 336.07h6.4l-3.20 -6.20zM130.58 336.07h6.4l-3.20 -6.20zM132.79 336.07h6.4l-3.20 -6.20zM135.00 336.07h6.4l-3.20 -6.20zM137.21 336.07h6.4l-3.20 -6.20zM139.42 336.07h6.4l-3.20 -6.20zM141.63 336.07h6.4l-3.20 -6.20zM143.84 336.07h6.4l-3.20 -6.20zM146.05 336.07h6.4l-3.20 -6.20zM148.26 336.07h6.4l-3.20 -6.20zM150.47 336.07h6.4l-3.20 -6.20zM152.68 336.07h6.4l-3.20 -6.20zM154.89 336.07h6.4l-3.20 -6.20zM157.10 336.07h6.4l-3.20 -6.20zM159.31 336.07h6.4l-3.20 -6.20zM161.52 336.07h6.4l-3.20 -6.20zM163.73 336.07h6.4l-3.20 -6.20zM165.94 336.07h6.4l-3.20 -6.20zM168.15 336.07h6.4l-3.20 -6.20zM170.36 336.07h6.4l-3.20 -6.20zM172.57 336.07h6.4l-3.20 -6.20zM174.78 336.07h6.4l-3.20 -6.20zM176.99 336.07h6.4l-3.20 -6.20zM179.20 336.07h6.4l-3.20 -6.20zM181.41 336.07h6.4l-3.20 -6.20zM183.62 336.07h6.4l-3.20 -6.20zM185.83 336.07h6.4l-3.20 -6.20zM188.04 336.07h6.4l-3.20 -6.20zM190.25 336.07h6.4l-3.20 -6.20zM192.46 336.07h6.4l-3.20 -6.20zM194.67 336.07h6.4l-3.20 -6.20zM196.88 336.07h6.4l-3.20 -6.20zM199.09 336.07h6.4l-3.20 -6.20zM201.30 336.07h6.4l-3.20 -6.20zM203.51 336.07h6.4l-3.20 -6.20zM205.72 336.07h6.4l-3.20 -6.20zM207.93 336.07h6.4l-3.20 -6.20zM210.14 336.07h6.4l-3.20 -6.20zM212.35 336.07h6.4l-3.20 -6.20zM214.56 336.07h6.4l-3.20 -6.20zM216.77 336.07h6.4l-3.20 -6.20zM218.98 336.07h6.4l-3.20 -6.20zM221.19 336.07h6.4l-3.20 -6.20zM223.40 336.07h6.4l-3.20 -6.20zM225.61 336.07h6.4l-3.20 -6.20zM227.82 336.07h6.4l-3.20 -6.20zM230.03 336.07h6.4l-3.20 -6.20zM232.24 336.07h6.4l-3.20 -6.20zM234.45 336.07h6.4l-3.20 -6.20zM236.66 336.07h6.4l-3.20 -6.20zM238.87 336.07h6.4l-3.20 -6.20zM241.08 336.07h6.4l-3.20 -6.20zM243.29 336.07h6.4l-3.20 -6.20zM245.50 336.07h6.4l-3.20 -6.20zM247.71 336.07h6.4l-3.20 -6.20zM249.92 336.07h6.4l-3.20 -6.20zM252.13 336.07h6.4l-3.20 -6.20zM254.34 336.07h6.4l-3.20 -6.20zM256.55 336.07h6.4l-3.20 -6.20zM258.76 336.07h6.4l-3.20 -6.20zM260.97 336.07h6.4l-3.20 -6.20zM263.18 336.07h6.4l-3.20 -6.20zM265.39 336.07h6.4l-3.20 -6.20zM267.60 336.07h6.4l-3.20 -6.20zM269.81 336.07h6.4l-3.20 -6.20zM272.02 336.07h6.4l-3.20 -6.20zM274.23 336.07h6.4l-3.20 -6.20zM276.44 336.07h6.4l-3.20 -6.20zM278.65 336.07h6.4l-3.20 -6.20zM280.86 336.07h6.4l-3.20 -6.20zM283.07 336.07h6.4l-3.20 -6.20zM285.28 336.07h6.4l-3.20 -6.20zM287.49 336.07h6.4l-3.20 -6.20zM289.70 336.07h6.4l-3.20 -6.20zM291.91 336.07h6.4l-3.20 -6.20zM294.12 336.07h6.4l-3.20 -6.20zM296.33 336.07h6.4l-3.20 -6.20zM298.54 336.07h6.4l-3.20 -6.20zM300.75 336.07h6.4l-3.20 -6.20zM302.96 336.07h6.4l-3.20 -6.20zM305.17 336.07h6.4l-3.20 -6.20zM307.38 336.07h6.4l-3.20 -6.20zM309.59 336.07h6.4l-3.20 -6.20zM311.80 336.07h6.4l-3.20 -6.20zM314.01 336.07h6.4l-3.20 -6.20zM316.22 336.07h6.4l-3.20 -6.20zM318.43 336.07h6.4l-3.20 -6.20zM320.64 336.07h6.4l-3.20 -6.20zM322.85 336.07h6.4l-3.20 -6.20zM325.06 336.07h6.4l-3.20 -6.20zM327.27 336.07h6.4l-3.20 -6.20zM329.48 336.07h6.4l-3.20 -6.20zM331.69 336.07h6.4l-3.20 -6.20zM333.90 336.07h6.4l-3.20 -6.20zM336.11 336.07h6.4l-3.20 -6.20zM338.32 336.07h6.4l-3.20 -6.20zM340.53 336.07h6.4l-3.20 -6.20zM342.74 336.07h6.4l-3.20 -6.20zM344.95 336.07h6.4l-3.20 -6.20zM347.16 336.07h6.4l-3.20 -6.20zM349.37 336.07h6.4l-3.20 -6.20zM351.58 336.07h6.4l-3.20 -6.20zM353.79 336.07h6.4l-3.20 -6.20zM356.00 336.07h6.4l-3.20 -6.20zM358.21 336.07h6.4l-3.20 -6.20zM360.42 336.07h6.4l-3.20 -6.20zM362.63 336.07h6.4l-3.20 -6.20zM364.84 336.07h6.4l-3.20 -6.20zM367.05 336.07h6.4l-3.20 -6.20zM369.26 336.07h6.4l-3.20 -6.20zM371.47 336.07h6.4l-3.20 -6.20zM373.68 336.07h6.4l-3.20 -6.20zM375.89 336.07h6.4l-3.20 -6.20zM378.10 336.07h6.4l-3.20 -6.20zM380.31 336.07h6.4l-3.20 -6.20zM382.52 336.07h6.4l-3.20 -6.20zM384.73 336.07h6.4l-3.20 -6.20zM386.94 336.07h6.4l-3.20 -6.20zM389.15 336.07h6.4l-3.20 -6.20zM391.36 336.07h6.4l-3.20 -6.20zM393.57 336.07h6.4l-3.20 -6.20zM395.78 336.07h6.4l-3.20 -6.20zM397.99 336.07h6.4l-3.20 -6.20zM400.20 336.07h6.4l-3.20 -6.20zM402.41 336.07h6.4l-3.20 -6.20zM404.62 336.07h6.4l-3.20 -6.20zM406.83 336.07h6.4l-3.20 -6.20zM409.04 336.07h6.4l-3.20 -6.20zM411.25 336.07h6.4l-3.20 -6.20zM413.46 336.07h6.4l-3.20 -6.20zM415.67 336.07h6.4l-3.20 -6.20zM417.88 336.07h6.4l-3.20 -6.20zM420.09 336.07h6.4l-3.20 -6.20zM422.30 336.07h6.4l-3.20 -6.20zM424.51 336.07h6.4l-3.20 -6.20zM426.72 336.07h6.4l-3.20 -6.20zM428.93 336.07h6.4l-3.20 -6.20zM431.14 336.07h6.4l-3.20 -6.20zM433.35 336.07h6.4l-3.20 -6.20zM435.56 336.07h6.4l-3.20 -6.20zM437.77 336.07h6.4l-3.20 -6.20zM439.98 336.07h6.4l-3.20 -6.20zM442.19 336.07h6.4l-3.20 -6.20zM444.40 336.07h6.4l-3.20 -6.20zM446.61 336.07h6.4l-3.20 -6.20zM448.82 336.07h6.4l-3.20 -6.20zM451.03 336.07h6.4l-3.20 -6.20zM453.24 336.07h6.4l-3.20 -6.20zM455.45 336.07h6.4l-3.20 -6.20zM457.66 336.07h6.4l-3.20 -6.20zM459.87 336.07h6.4l-3.20 -6.20zM462.08 336.07h6.4l-3.20 -6.20zM464.29 336.07h6.4l-3.20 -6.20zM466.50 336.07h6.4l-3.20 -6.20zM468.71 336.07h6.4l-3.20 -6.20zM470.92 336.07h6.4l-3.20 -6.20zM473.13 336.07h6.4l-3.20 -6.20zM475.34 336.07h6.4l-3.20 -6.20zM477.55 336.07h6.4l-3.20 -6.20zM479.76 336.07h6.4l-3.20 -6.20zM481.97 336.07h6.4l-3.20 -6.20zM484.18 336.07h6.4l-3.20 -6.20zM486.39 336.07h6.4l-3.20 -6.20zM488.60 336.07h6.4l-3.20 -6.20zM490.81 336.07h6.4l-3.20 -6.20zM493.02 336.07h6.4l-3.20 -6.20zM495.23 336.07h6.4l-3.20 -6.20zM497.44 336.07h6.4l-3.20 -6.20zM499.65 336.07h6.4l-3.20 -6.20zM501.86 336.07h6.4l-3.20 -6.20zM504.07 336.07h6.4l-3.20 -6.20zM506.28 336.07h6.4l-3.20 -6.20zM508.49 336.07h6.4l-3.20 -6.20zM510.70 336.07h6.4l-3.20 -6.20zM512.91 336.07h6.4l-3.20 -6.20zM515.12 336.07h6.4l-3.20 -6.20zM517.33 336.07h6.4l-3.20 -6.20zM519.54 336.07h6.4l-3.20 -6.20zM521.75 336.07h6.4l-3.20 -6.20zM523.96 336.07h6.4l-3.20 -6.20zM526.17 336.07h6.4l-3.20 -6.20zM528.38 336.07h6.4l-3.20 -6.20zM530.59 336.07h6.4l-3.20 -6.20zM532.80 336.07h6.4l-3.20 -6.20zM535.01 336.07h6.4l-3.20 -6.20zM537.22 336.07h6.4l-3.20 -6.20zM539.43 336.07h6.4l-3.20 -6.20zM541.64 336.07h6.4l-3.20 -6.20zM543.85 336.07h6.4l-3.20 -6.20zM546.06 336.07h6.4l-3.20 -6.20z"/>
<path fill="#008080" stroke="#008080" stroke-width="1" stroke-linejoin="round" clip-path="url(#pc)" d="M68.70 331.93h6.4l-3.20 6.20zM70.91 331.45h6.4l-3.20 6.20zM73.12 330.97h6.4l-3.20 6.20zM75.33 330.49h6.4l-3.20 6.20zM77.54 330.01h6.4l-3.20 6.20zM79.75 329.54h6.4l-3.20 6.20zM81.96 329.06h6.4l-3.20 6.20zM84.17 328.59h6.4l-3.20 6.20zM86.38 328.12h6.4l-3.20 6.20zM88.59 327.66h6.4l-3.20 6.20zM90.80 327.19h6.4l-3.20 6.20zM93.01 326.73h6.4l-3.20 6.20zM95.22 326.27h6.4l-3.20 6.20zM97.43 325.82h6.4l-3.20 6.20zM99.64 325.36h6.4l-3.20 6.20zM101.85 324.91h6.4l-3.20 6.20zM104.06 324.46h6.4l-3.20 6.20zM106.27 324.01h6.4l-3.20 6.20zM108.48 323.56h6.4l-3.20 6.20zM110.69 323.12h6.4l-3.20 6.20zM112.90 322.68h6.4l-3.20 6.20zM115.11 322.24h6.4l-3.20 6.20zM117.32 321.80h6.4l-3.20 6.20zM119.53 321.36h6.4l-3.20 6.20zM121.74 320.93h6.4l-3.20 6.20zM123.95 320.50h6.4l-3.20 6.20zM126.16 320.07h6.4l-3.20 6.20zM128.37 319.64h6.4l-3.20 6.20zM130.58 319.21h6.4l-3.20 6.20zM132.79 318.79h6.4l-3.20 6.20zM135.00 318.37h6.4l-3.20 6.20zM137.21 317.95h6.4l-3.20 6.20zM139.42 317.53h6.4l-3.20 6.20zM141.63 317.11h6.4l-3.20 6.20zM143.84 316.70h6.4l-3.20 6.20zM146.05 316.29h6.4l-3.20 6.20zM148.26 315.88h6.4l-3.20 6.20zM150.47 315.47h6.4l-3.20 6.20zM152.68 315.07h6.4l-3.20 6.20zM154.89 314.66h6.4l-3.20 6.20zM157.10 314.26h6.4l-3.20 6.20zM159.31 313.86h6.4l-3.20 6.20zM161.52 313.46h6.4l-3.20 6.20zM163.73 313.06h6.4l-3.20 6.20zM165.94 312.67h6.4l-3.20 6.20zM168.15 312.28h6.4l-3.20 6.20zM170.36 311.89h6.4l-3.20 6.20zM172.57 311.50h6.4l-3.20 6.20zM174.78 311.11h6.4l-3.20 6.20zM176.99 310.73h6.4l-3.20 6.20zM179.20 310.34h6.4l-3.20 6.20zM181.41 309.96h6.4l-3.20 6.20zM183.62 309.58h6.4l-3.20 6.20zM185.83 309.20h6.4l-3.20 6.20zM188.04 308.83h6.4l-3.20 6.20zM190.25 308.45h6.4l-3.20 6.20zM192.46 308.08h6.4l-3.20 6.20zM194.67 307.71h6.4l-3.20 6.20zM196.88 307.34h6.4l-3.20 6.20zM199.09 306.97h6.4l-3.20 6.20zM201.30 306.61h6.4l-3.20 6.20zM203.51 306.24h6.4l-3.20 6.20zM205.72 305.88h6.4l-3.20 6.20zM207.93 305.52h6.4l-3.20 6.20zM210.14 305.16h6.4l-3.20 6.20zM212.35 304.81h6.4l-3.20 6.20zM214.56 304.45h6.4l-3.20 6.20zM216.77 304.10h6.4l-3.20 6.20zM218.98 303.74h6.4l-3.20 6.20zM221.19 303.39h6.4l-3.20 6.20zM223.40 303.05h6.4l-3.20 6.20zM225.61 302.70h6.4l-3.20 6.20zM227.82 302.35h6.4l-3.20 6.20zM230.03 302.01h6.4l-3.20 6.20zM232.24 301.67h6.4l-3.20 6.20zM234.45 301.33h6.4l-3.20 6.20zM236.66 300.99h6.4l-3.20 6.20zM238.87 300.65h6.4l-3.20 6.20zM241.08 300.32h6.4l-3.20 6.20zM243.29 299.98h6.4l-3.20 6.20zM245.50 299.65h6.4l-3.20 6.20zM247.71 299.32h6.4l-3.20 6.20zM249.92 298.99h6.4l-3.20 6.20zM252.13 298.66h6.4l-3.20 6.20zM254.34 298.34h6.4l-3.20 6.20zM256.55 298.01h6.4l-3.20 6.20zM258.76 297.69h6.4l-3.20 6.20zM260.97 297.37h6.4l-3.20 6.20zM263.18 297.05h6.4l-3.20 6.20zM265.39 296.73h6.4l-3.20 6.20zM267.60 296.41h6.4l-3.20 6.20zM269.81 296.10h6.4l-3.20 6.20zM272.02 295.78h6.4l-3.20 6.20zM274.23 295.47h6.4l-3.20 6.20zM276.44 295.16h6.4l-3.20 6.20zM278.65 294.85h6.4l-3.20 6.20zM280.86 294.54h6.4l-3.20 6.20zM283.07 294.23h6.4l-3.20 6.20zM285.28 293.93h6.4l-3.20 6.20zM287.49 293.63h6.4l-3.20 6.20zM289.70 293.32h6.4l-3.20 6.20zM291.91 293.02h6.4l-3.20 6.20zM294.12 292.72h6.4l-3.20 6.20zM296.33 292.43h6.4l-3.20 6.20zM298.54 292.13h6.4l-3.20 6.20zM300.75 291.83h6.4l-3.20 6.20zM302.96 291.54h6.4l-3.20 6.20zM305.17 291.25h6.4l-3.20 6.20zM307.38 290.96h6.4l-3.20 6.20zM309.59 290.67h6.4l-3.20 6.20zM311.80 290.38h6.4l-3.20 6.20zM314.01 290.09h6.4l-3.20 6.20zM316.22 289.81h6.4l-3.20 6.20zM318.43 289.52h6.4l-3.20 6.20zM320.64 289.24h6.4l-3.20 6.20zM322.85 288.96h6.4l-3.20 6.20zM325.06 288.68h6.4l-3.20 6.20zM327.27 288.40h6.4l-3.20 6.20zM329.48 288.12h6.4l-3.20 6.20zM331.69 287.85h6.4l-3.20 6.20zM333.90 287.57h6.4l-3.20 6.20zM336.11 287.30h6.4l-3.20 6.20zM338.32 287.03h6.4l-3.20 6.20zM340.53 286.76h6.4l-3.20 6.20zM342.74 286.49h6.4l-3.20 6.20zM344.95 286.22h6.4l-3.20 6.20zM347.16 285.95h6.4l-3.20 6.20zM349.37 285.69h6.4l-3.20 6.20zM351.58 285.42h6.4l-3.20 6.20zM353.79 285.16h6.4l-3.20 6.20zM356.00 284.90h6.4l-3.20 6.20zM358.21 284.64h6.4l-3.20 6.20zM360.42 284.38h6.4l-3.20 6.20zM362.63 284.12h6.4l-3.20 6.20zM364.84 283.86h6.4l-3.20 6.20zM367.05 283.60h6.4l-3.20 6.20zM369.26 283.35h6.4l-3.20 6.20zM371.47 283.10h6.4l-3.20 6.20zM373.68 282.84h6.4l-3.20 6.20zM375.89 282.59h6.4l-3.20 6.20zM378.10 282.34h6.4l-3.20 6.20zM380.31 282.10h6.4l-3.20 6.20zM382.52 281.85h6.4l-3.20 6.20zM384.73 281.60h6.4l-3.20 6.20zM386.94 281.36h6.4l-3.20 6.20zM389.15 281.11h6.4l-3.20 6.20zM391.36 280.87h6.4l-3.20 6.20zM393.57 280.63h6.4l-3.20 6.20zM395.78 280.39h6.4l-3.20 6.20zM397.99 280.15h6.4l-3.20 6.20zM400.20 279.91h6.4l-3.20 6.20zM402.41 279.67h6.4l-3.20 6.20zM404.62 279.44h6.4l-3.20 6.20zM406.83 279.20h6.4l-3.20 6.20zM409.04 278.97h6.4l-3.20 6.20zM411.25 278.74h6.4l-3.20 6.20zM413.46 278.50h6.4l-3.20 6.20zM415.67 278.27h6.4l-3.20 6.20zM417.88 278.05h6.4l-3.20 6.20zM420.09 277.82h6.4l-3.20 6.20zM422.30 277.59h6.4l-3.20 6.20zM424.51 277.36h6.4l-3.20 6.20zM426.72 277.14h6.4l-3.20 6.20zM428.93 276.91h6.4l-3.20 6.20zM431.14 276.69h6.4l-3.20 6.20zM433.35 276.47h6.4l-3.20 6.20zM435.56 276.25h6.4l-3.20 6.20zM437.77 276.03h6.4l-3.20 6.20zM439.98 275.81h6.4l-3.20 6.20zM442.19 275.59h6.4l-3.20 6.20zM444.40 275.38h6.4l-3.20 6.20zM446.61 275.16h6.4l-3.20 6.20zM448.82 274.95h6.4l-3.20 6.20zM451.03 274.73h6.4l-3.20 6.20zM453.24 274.52h6.4l-3.20 6.20zM455.45 274.31h6.4l-3.20 6.20zM457.66 274.10h6.4l-3.20 6.20zM459.87 273.89h6.4l-3.20 6.20zM462.08 273.68h6.4l-3.20 6.20zM464.29 273.47h6.4l-3.20 6.20zM466.50 273.27h6.4l-3.20 6.20zM468.71 273.06h6.4l-3.20 6.20zM470.92 272.86h6.4l-3.20 6.20zM473.13 272.65h6.4l-3.20 6.20zM475.34 272.45h6.4l-3.20 6.20zM477.55 272.25h6.4l-3.20 6.20zM479.76 272.05h6.4l-3.20 6.20zM481.97 271.85h6.4l-3.20 6.20zM484.18 271.65h6.4l-3.20 6.20zM486.39 271.45h6.4l-3.20 6.20zM488.60 271.26h6.4l-3.20 6.20zM490.81 271.06h6.4l-3.20 6.20zM493.02 270.86h6.4l-3.20 6.20zM495.23 270.67h6.4l-3.20 6.20zM497.44 270.48h6.4l-3.20 6.20zM499.65 270.29h6.4l-3.20 6.20zM501.86 270.09h6.4l-3.20 6.20zM504.07 269.90h6.4l-3.20 6.20zM506.28 269.71h6.4l-3.20 6.20zM508.49 269.53h6.4l-3.20 6.20zM510.70 269.34h6.4l-3.20 6.20zM512.91 269.15h6.4l-3.20 6.20zM515.12 268.96h6.4l-3.20 6.20zM517.33 268.78h6.4l-3.20 6.20zM519.54 268.60h6.4l-3.20 6.20zM521.75 268.41h6.4l-3.20 6.20zM523.96 268.23h6.4l-3.20 6.20zM526.17 268.05h6.4l-3.20 6.20zM528.38 267.87h6.4l-3.20 6.20zM530.59 267.69h6.4l-3.20 6.20zM532.80 267.51h6.4l-3.20 6.20zM535.01 267.33h6.4l-3.20 6.20zM537.22 267.15h6.4l-3.20 6.20zM539.43 266.98h6.4l-3.20 6.20zM541.64 266.80h6.4l-3.20 6.20zM543.85 266.63h6.4l-3.20 6.20zM546.06 266.45h6.4l-3.20 6.20z"/>
<path fill="#ff00ff" stroke="#ff00ff" stroke-width="1" stroke-linejoin="round" clip-path="url(#pc)" d="M73.97 330.80v6.4l-6.20 -3.20zM76.18 327.91v6.4l-6.20 -3.20zM78.39 325.06v6.4l-6.20 -3.20zM80.60 322.24v6.4l-6.20 -3.20zM82.81 319.45v6.4l-6.20 -3.20zM85.02 316.70v6.4l-6.20 -3.20zM87.23 313.99v6.4l-6.20 -3.20zM89.44 311.30v6.4l-6.20 -3.20zM91.65 308.65v6.4l-6.20 -3.20zM93.86 306.03v6.4l-6.20 -3.20zM96.07 303.44v6.4l-6.20 -3.20zM98.28 300.88v6.4l-6.20 -3.20zM100.49 298.36v6.4l-6.20 -3.20zM102.70 295.86v6.4l-6.20 -3.20zM104.91 293.40v6.4l-6.20 -3.20zM107.12 290.96v6.4l-6.20 -3.20zM109.33 288.56v6.4l-6.20 -3.20zM111.54 286.18v6.4l-6.20 -3.20zM113.75 283.83v6.4l-6.20 -3.20zM115.96 281.51v6.4l-6.20 -3.20zM118.17 279.22v6.4l-6.20 -3.20zM120.38 276.96v6.4l-6.20 -3.20zM122.59 274.72v6.4l-6.20 -3.20zM124.80 272.52v6.4l-6.20 -3.20zM127.01 270.33v6.4l-6.20 -3.20zM129.22 268.18v6.4l-6.20 -3.20zM131.43 266.05v6.4l-6.20 -3.20zM133.64 263.95v6.4l-6.20 -3.20zM135.85 261.86v6.4l-6.20 -3.20zM138.06 259.77v6.4l-6.20 -3.20zM140.27 257.70v6.4l-6.20 -3.20zM142.48 255.63v6.4l-6.20 -3.20zM144.69 253.58v6.4l-6.20 -3.20zM146.90 251.55v6.4l-6.20 -3.20zM149.11 249.53v6.4l-6.20 -3.20zM151.32 247.53v6.4l-6.20 -3.20zM153.53 245.55v6.4l-6.20 -3.20zM155.74 243.60v6.4l-6.20 -3.20zM157.95 241.67v6.4l-6.20 -3.20zM160.16 239.77v6.4l-6.20 -3.20zM162.37 237.91v6.4l-6.20 -3.20zM164.58 236.07v6.4l-6.20 -3.20zM166.79 234.25v6.4l-6.20 -3.20zM169.00 232.45v6.4l-6.20 -3.20zM171.21 230.68v6.4l-6.20 -3.20zM173.42 228.92v6.4l-6.20 -3.20zM175.63 227.19v6.4l-6.20 -3.20zM177.84 225.48v6.4l-6.20 -3.20zM180.05 223.79v6.4l-6.20 -3.20zM182.26 222.12v6.4l-6.20 -3.20zM184.47 220.47v6.4l-6.20 -3.20zM186.68 218.84v6.4l-6.20 -3.20zM188.89 217.23v6.4l-6.20 -3.20zM191.10 215.64v6.4l-6.20 -3.20zM193.31 214.06v6.4l-6.20 -3.20zM195.52 212.50v6.4l-6.20 -3.20zM197.73 210.97v6.4l-6.20 -3.20zM199.94 209.47v6.4l-6.20 -3.20zM202.15 208.02v6.4l-6.20 -3.20zM204.36 206.60v6.4l-6.20 -3.20zM206.57 205.21v6.4l-6.20 -3.20zM208.78 203.84v6.4l-6.20 -3.20zM210.99 202.50v6.4l-6.20 -3.20zM213.20 201.18v6.4l-6.20 -3.20zM215.41 199.87v6.4l-6.20 -3.20zM217.62 198.58v6.4l-6.20 -3.20zM219.83 197.30v6.4l-6.20 -3.20zM222.04 196.03v6.4l-6.20 -3.20zM224.25 194.78v6.4l-6.20 -3.20zM226.46 193.53v6.4l-6.20 -3.20zM228.67 192.30v6.4l-6.20 -3.20zM230.88 191.09v6.4l-6.20 -3.20zM233.09 189.88v6.4l-6.20 -3.20zM235.30 188.70v6.4l-6.20 -3.20zM237.51 187.52v6.4l-6.20 -3.20zM239.72 186.36v6.4l-6.20 -3.20zM241.93 185.22v6.4l-6.20 -3.20zM244.14 184.09v6.4l-6.20 -3.20zM246.35 182.97v6.4l-6.20 -3.20zM248.56 181.86v6.4l-6.20 -3.20zM250.77 180.77v6.4l-6.20 -3.20zM252.98 179.70v6.4l-6.20 -3.20zM255.19 178.63v6.4l-6.20 -3.20zM257.40 177.58v6.4l-6.20 -3.20zM259.61 176.54v6.4l-6.20 -3.20zM261.82 175.52v6.4l-6.20 -3.20zM264.03 174.51v6.4l-6.20 -3.20zM266.24 173.51v6.4l-6.20 -3.20zM268.45 172.53v6.4l-6.20 -3.20zM270.66 171.55v6.4l-6.20 -3.20zM272.87 170.59v6.4l-6.20 -3.20zM275.08 169.64v6.4l-6.20 -3.20zM277.29 168.70v6.4l-6.20 -3.20zM279.50 167.77v6.4l-6.20 -3.20zM281.71 166.85v6.4l-6.20 -3.20zM283.92 165.95v6.4l-6.20 -3.20zM286.13 165.06v6.4l-6.20 -3.20zM288.34 164.17v6.4l-6.20 -3.20zM290.55 163.30v6.4l-6.20 -3.20zM292.76 162.44v6.4l-6.20 -3.20zM294.97 161.59v6.4l-6.20 -3.20zM297.18 160.75v6.4l-6.20 -3.20zM299.39 159.92v6.4l-6.20 -3.20zM301.60 159.11v6.4l-6.20 -3.20zM303.81 158.30v6.4l-6.20 -3.20zM306.02 157.50v6.4l-6.20 -3.20zM308.23 156.71v6.4l-6.20 -3.20zM310.44 155.94v6.4l-6.20 -3.20zM312.65 155.17v6.4l-6.20 -3.20zM314.86 154.41v6.4l-6.20 -3.20zM317.07 153.66v6.4l-6.20 -3.20zM319.28 152.93v6.4l-6.20 -3.20zM321.49 152.20v6.4l-6.20 -3.20zM323.70 151.48v6.4l-6.20 -3.20zM325.91 150.77v6.4l-6.20 -3.20zM328.12 150.07v6.4l-6.20 -3.20zM330.33 149.38v6.4l-6.20 -3.20zM332.54 148.71v6.4l-6.20 -3.20zM334.75 148.04v6.4l-6.20 -3.20zM336.96 147.38v6.4l-6.20 -3.20zM339.17 146.72v6.4l-6.20 -3.20zM341.38 146.08v6.4l-6.20 -3.20zM343.59 145.45v6.4l-6.20 -3.20zM345.80 144.82v6.4l-6.20 -3.20zM348.01 144.20v6.4l-6.20 -3.20zM350.22 143.59v6.4l-6.20 -3.20zM352.43 142.99v6.4l-6.20 -3.20zM354.64 142.40v6.4l-6.20 -3.20zM356.85 141.81v6.4l-6.20 -3.20zM359.06 141.23v6.4l-6.20 -3.20zM361.27 140.66v6.4l-6.20 -3.20zM363.48 140.09v6.4l-6.20 -3.20zM365.69 139.54v6.4l-6.20 -3.20zM367.90 138.99v6.4l-6.20 -3.20zM370.11 138.44v6.4l-6.20 -3.20zM372.32 137.90v6.4l-6.20 -3.20zM374.53 137.37v6.4l-6.20 -3.20zM376.74 136.84v6.4l-6.20 -3.20zM378.95 136.32v6.4l-6.20 -3.20zM381.16 135.81v6.4l-6.20 -3.20zM383.37 135.30v6.4l-6.20 -3.20zM385.58 134.80v6.4l-6.20 -3.20zM387.79 134.30v6.4l-6.20 -3.20zM390.00 133.81v6.4l-6.20 -3.20zM392.21 133.32v6.4l-6.20 -3.20zM394.42 132.84v6.4l-6.20 -3.20zM396.63 132.37v6.4l-6.20 -3.20zM398.84 131.90v6.4l-6.20 -3.20zM401.05 131.44v6.4l-6.20 -3.20zM403.26 130.98v6.4l-6.20 -3.20zM405.47 130.53v6.4l-6.20 -3.20zM407.68 130.08v6.4l-6.20 -3.20zM409.89 129.64v6.4l-6.20 -3.20zM412.10 129.21v6.4l-6.20 -3.20zM414.31 128.78v6.4l-6.20 -3.20zM416.52 128.35v6.4l-6.20 -3.20zM418.73 127.93v6.4l-6.20 -3.20zM420.94 127.52v6.4l-6.20 -3.20zM423.15 127.11v6.4l-6.20 -3.20zM425.36 126.71v6.4l-6.20 -3.20zM427.57 126.31v6.4l-6.20 -3.20zM429.78 125.91v6.4l-6.20 -3.20zM431.99 125.52v6.4l-6.20 -3.20zM434.20 125.14v6.4l-6.20 -3.20zM436.41 124.76v6.4l-6.20 -3.20zM438.62 124.39v6.4l-6.20 -3.20zM440.83 124.02v6.4l-6.20 -3.20zM443.04 123.65v6.4l-6.20 -3.20zM445.25 123.29v6.4l-6.20 -3.20zM447.46 122.94v6.4l-6.20 -3.20zM449.67 122.59v6.4l-6.20 -3.20zM451.88 122.24v6.4l-6.20 -3.20zM454.09 121.90v6.4l-6.20 -3.20zM456.30 121.56v6.4l-6.20 -3.20zM458.51 121.22v6.4l-6.20 -3.20zM460.72 120.89v6.4l-6.20 -3.20zM462.93 120.57v6.4l-6.20 -3.20zM465.14 120.25v6.4l-6.20 -3.20zM467.35 119.93v6.4l-6.20 -3.20zM469.56 119.61v6.4l-6.20 -3.20zM471.77 119.30v6.4l-6.20 -3.20zM473.98 119.00v6.4l-6.20 -3.20zM476.19 118.70v6.4l-6.20 -3.20zM478.40 118.40v6.4l-6.20 -3.20zM480.61 118.10v6.4l-6.20 -3.20zM482.82 117.81v6.4l-6.20 -3.20zM485.03 117.53v6.4l-6.20 -3.20zM487.24 117.25v6.4l-6.20 -3.20zM489.45 116.97v6.4l-6.20 -3.20zM491.66 116.69v6.4l-6.20 -3.20zM493.87 116.42v6.4l-6.20 -3.20zM496.08 116.15v6.4l-6.20 -3.20zM498.29 115.89v6.4l-6.20 -3.20zM500.50 115.63v6.4l-6.20 -3.20zM502.71 115.38v6.4l-6.20 -3.20zM504.92 115.12v6.4l-6.20 -3.20zM507.13 114.87v6.4l-6.20 -3.20zM509.34 114.63v6.4l-6.20 -3.20zM511.55 114.39v6.4l-6.20 -3.20zM513.76 114.15v6.4l-6.20 -3.20zM515.97 113.91v6.4l-6.20 -3.20zM518.18 113.68v6.4l-6.20 -3.20zM520.39 113.45v6.4l-6.20 -3.20zM522.60 113.23v6.4l-6.20 -3.20zM524.81 113.00v6.4l-6.20 -3.20zM527.02 112.78v6.4l-6.20 -3.20zM529.23 112.57v6.4l-6.20 -3.20zM531.44 112.36v6.4l-6.20 -3.20zM533.65 112.15v6.4l-6.20 -3.20zM535.86 111.94v6.4l-6.20 -3.20zM538.07 111.73v6.4l-6.20 -3.20zM540.28 111.53v6.4l-6.20 -3.20zM542.49 111.34v6.4l-6.20 -3.20zM544.70 111.14v6.4l-6.20 -3.20zM546.91 110.95v6.4l-6.20 -3.20zM549.12 110.76v6.4l-6.20 -3.20zM551.33 110.57v6.4l-6.20 -3.20z"/>
<path fill="#808000" stroke="#808000" stroke-width="1" stroke-linejoin="round" clip-path="url(#pc)" d="M69.83 330.80v6.4l6.20 -3.20zM72.04 325.98v6.4l6.20 -3.20zM74.25 321.22v6.4l6.20 -3.20zM76.46 316.54v6.4l6.20 -3.20zM78.67 311.92v6.4l6.20 -3.20zM80.88 307.37v6.4l6.20 -3.20zM83.09 302.89v6.4l6.20 -3.20zM85.30 298.47v6.4l6.20 -3.20zM87.51 294.12v6.4l6.20 -3.20zM89.72 289.83v6.4l6.20 -3.20zM91.93 285.60v6.4l6.20 -3.20zM94.14 281.43v6.4l6.20 -3.20zM96.35 277.32v6.4l6.20 -3.20zM98.56 273.28v6.4l6.20 -3.20zM100.77 269.29v6.4l6.20 -3.20zM102.98 265.36v6.4l6.20 -3.20zM105.19 261.48v6.4l6.20 -3.20zM107.40 257.66v6.4l6.20 -3.20zM109.61 253.90v6.4l6.20 -3.20zM111.82 250.19v6.4l6.20 -3.20zM114.03 246.54v6.4l6.20 -3.20zM116.24 242.94v6.4l6.20 -3.20zM118.45 239.39v6.4l6.20 -3.20zM120.66 235.89v6.4l6.20 -3.20zM122.87 232.44v6.4l6.20 -3.20zM125.08 229.04v6.4l6.20 -3.20zM127.29 225.70v6.4l6.20 -3.20zM129.50 222.40v6.4l6.20 -3.20zM131.71 219.14v6.4l6.20 -3.20zM133.92 215.94v6.4l6.20 -3.20zM136.13 212.78v6.4l6.20 -3.20zM138.34 209.68v6.4l6.20 -3.20zM140.55 206.64v6.4l6.20 -3.20zM142.76 203.66v6.4l6.20 -3.20zM144.97 200.74v6.4l6.20 -3.20zM147.18 197.88v6.4l6.20 -3.20zM149.39 195.07v6.4l6.20 -3.20zM151.60 192.30v6.4l6.20 -3.20zM153.81 189.59v6.4l6.20 -3.20zM156.02 186.92v6.4l6.20 -3.20zM158.23 184.29v6.4l6.20 -3.20zM160.44 181.71v6.4l6.20 -3.20zM162.65 179.15v6.4l6.20 -3.20zM164.86 176.64v6.4l6.20 -3.20zM167.07 174.15v6.4l6.20 -3.20zM169.28 171.70v6.4l6.20 -3.20zM171.49 169.27v6.4l6.20 -3.20zM173.70 166.86v6.4l6.20 -3.20zM175.91 164.48v6.4l6.20 -3.20zM178.12 162.11v6.4l6.20 -3.20zM180.33 159.77v6.4l6.20 -3.20zM182.54 157.44v6.4l6.20 -3.20zM184.75 155.15v6.4l6.20 -3.20zM186.96 152.89v6.4l6.20 -3.20zM189.17 150.67v6.4l6.20 -3.20zM191.38 148.47v6.4l6.20 -3.20zM193.59 146.31v6.4l6.20 -3.20zM195.80 144.18v6.4l6.20 -3.20zM198.01 142.08v6.4l6.20 -3.20zM200.22 140.01v6.4l6.20 -3.20zM202.43 137.97v6.4l6.20 -3.20zM204.64 135.96v6.4l6.20 -3.20zM206.85 133.98v6.4l6.20 -3.20zM209.06 132.02v6.4l6.20 -3.20zM211.27 130.10v6.4l6.20 -3.20zM213.48 128.20v6.4l6.20 -3.20zM215.69 126.33v6.4l6.20 -3.20zM217.90 124.49v6.4l6.20 -3.20zM220.11 122.67v6.4l6.20 -3.20zM222.32 120.88v6.4l6.20 -3.20zM224.53 119.12v6.4l6.20 -3.20zM226.74 117.38v6.4l6.20 -3.20zM228.95 115.67v6.4l6.20 -3.20zM231.16 113.98v6.4l6.20 -3.20zM233.37 112.32v6.4l6.20 -3.20zM235.58 110.68v6.4l6.20 -3.20zM237.79 109.07v6.4l6.20 -3.20zM240.00 107.48v6.4l6.20 -3.20zM242.21 105.91v6.4l6.20 -3.20zM244.42 104.37v6.4l6.20 -3.20zM246.63 102.85v6.4l6.20 -3.20zM248.84 101.35v6.4l6.20 -3.20zM251.05 99.87v6.4l6.20 -3.20zM253.26 98.41v6.4l6.20 -3.20zM255.47 96.98v6.4l6.20 -3.20zM257.68 95.56v6.4l6.20 -3.20zM259.89 94.17v6.4l6.20 -3.20zM262.10 92.79v6.4l6.20 -3.20zM264.31 91.44v6.4l6.20 -3.20zM266.52 90.11v6.4l6.20 -3.20zM268.73 88.79v6.4l6.20 -3.20zM270.94 87.49v6.4l6.20 -3.20zM273.15 86.22v6.4l6.20 -3.20zM275.36 84.96v6.4l6.20 -3.20zM277.57 83.72v6.4l6.20 -3.20zM279.78 82.49v6.4l6.20 -3.20zM281.99 81.29v6.4l6.20 -3.20zM284.20 80.10v6.4l6.20 -3.20zM286.41 78.93v6.4l6.20 -3.20zM288.62 77.78v6.4l6.20 -3.20zM290.83 76.64v6.4l6.20 -3.20zM293.04 75.52v6.4l6.20 -3.20zM295.25 74.42v6.4l6.20 -3.20zM297.46 73.33v6.4l6.20 -3.20zM299.67 72.26v6.4l6.20 -3.20zM301.88 71.19v6.4l6.20 -3.20zM304.09 70.13v6.4l6.20 -3.20zM306.30 69.09v6.4l6.20 -3.20zM308.51 68.05v6.4l6.20 -3.20zM310.72 67.02v6.4l6.20 -3.20zM312.93 66.01v6.4l6.20 -3.20zM315.14 65.00v6.4l6.20 -3.20zM317.35 64.01v6.4l6.20 -3.20zM319.56 63.02v6.4l6.20 -3.20zM321.77 62.05v6.4l6.20 -3.20zM323.98 61.09v6.4l6.20 -3.20zM326.19 60.14v6.4l6.20 -3.20zM328.40 59.21v6.4l6.20 -3.20zM330.61 58.28v6.4l6.20 -3.20zM332.82 57.37v6.4l6.20 -3.20zM335.03 56.47v6.4l6.20 -3.20zM337.24 55.59v6.4l6.20 -3.20zM339.45 54.72v6.4l6.20 -3.20zM341.66 53.86v6.4l6.20 -3.20zM343.87 53.02v6.4l6.20 -3.20zM346.08 52.19v6.4l6.20 -3.20zM348.29 51.37v6.4l6.20 -3.20zM350.50 50.57v6.4l6.20 -3.20zM352.71 49.78v6.4l6.20 -3.20zM354.92 48.99v6.4l6.20 -3.20zM357.13 48.22v6.4l6.20 -3.20zM359.34 47.46v6.4l6.20 -3.20zM361.55 46.71v6.4l6.20 -3.20zM363.76 45.97v6.4l6.20 -3.20zM365.97 45.24v6.4l6.20 -3.20zM368.18 44.52v6.4l6.20 -3.20zM370.39 43.82v6.4l6.20 -3.20zM372.60 43.12v6.4l6.20 -3.20zM374.81 42.44v6.4l6.20 -3.20zM377.02 41.78v6.4l6.20 -3.20zM379.23 41.12v6.4l6.20 -3.20zM381.44 40.48v6.4l6.20 -3.20zM383.65 39.84v6.4l6.20 -3.20zM385.86 39.21v6.4l6.20 -3.20zM388.07 38.60v6.4l6.20 -3.20zM390.28 37.99v6.4l6.20 -3.20zM392.49 37.39v6.4l6.20 -3.20zM394.70 36.80v6.4l6.20 -3.20zM396.91 36.21v6.4l6.20 -3.20zM399.12 35.64v6.4l6.20 -3.20zM401.33 35.07v6.4l6.20 -3.20zM403.54 34.52v6.4l6.20 -3.20zM405.75 33.97v6.4l6.20 -3.20zM407.96 33.43v6.4l6.20 -3.20zM410.17 32.89v6.4l6.20 -3.20zM412.38 32.37v6.4l6.20 -3.20zM414.59 31.85v6.4l6.20 -3.20zM416.80 31.34v6.4l6.20 -3.20zM419.01 30.84v6.4l6.20 -3.20zM421.22 30.34v6.4l6.20 -3.20zM423.43 29.85v6.4l6.20 -3.20zM425.64 29.37v6.4l6.20 -3.20zM427.85 28.90v6.4l6.20 -3.20zM430.06 28.43v6.4l6.20 -3.20zM432.27 27.97v6.4l6.20 -3.20zM434.48 27.52v6.4l6.20 -3.20zM436.69 27.07v6.4l6.20 -3.20zM438.90 26.63v6.4l6.20 -3.20zM441.11 26.20v6.4l6.20 -3.20zM443.32 25.77v6.4l6.20 -3.20zM445.53 25.35v6.4l6.20 -3.20zM447.74 24.93v6.4l6.20 -3.20zM449.95 24.52v6.4l6.20 -3.20zM452.16 24.12v6.4l6.20 -3.20zM454.37 23.72v6.4l6.20 -3.20zM456.58 23.33v6.4l6.20 -3.20zM458.79 22.95v6.4l6.20 -3.20zM461.00 22.57v6.4l6.20 -3.20zM463.21 22.19v6.4l6.20 -3.20zM465.42 21.82v6.4l6.20 -3.20zM467.63 21.46v6.4l6.20 -3.20zM469.84 21.10v6.4l6.20 -3.20zM472.05 20.75v6.4l6.20 -3.20zM474.26 20.40v6.4l6.20 -3.20zM476.47 20.05v6.4l6.20 -3.20zM478.68 19.72v6.4l6.20 -3.20zM480.89 19.38v6.4l6.20 -3.20zM483.10 19.05v6.4l6.20 -3.20zM485.31 18.73v6.4l6.20 -3.20zM487.52 18.41v6.4l6.20 -3.20zM489.73 18.10v6.4l6.20 -3.20zM491.94 17.79v6.4l6.20 -3.20zM494.15 17.48v6.4l6.20 -3.20zM496.36 17.18v6.4l6.20 -3.20zM498.57 16.88v6.4l6.20 -3.20zM500.78 16.59v6.4l6.20 -3.20zM502.99 16.30v6.4l6.20 -3.20zM505.20 16.02v6.4l6.20 -3.20zM507.41 15.74v6.4l6.20 -3.20zM509.62 15.46v6.4l6.20 -3.20zM511.83 15.19v6.4l6.20 -3.20zM514.04 14.92v6.4l6.20 -3.20zM516.25 14.66v6.4l6.20 -3.20zM518.46 14.40v6.4l6.20 -3.20zM520.67 14.14v6.4l6.20 -3.20zM522.88 13.89v6.4l6.20 -3.20zM525.09 13.64v6.4l6.20 -3.20zM527.30 13.40v6.4l6.20 -3.20zM529.51 13.16v6.4l6.20 -3.20zM531.72 12.92v6.4l6.20 -3.20zM533.93 12.68v6.4l6.20 -3.20zM536.14 12.45v6.4l6.20 -3.20zM538.35 12.23v6.4l6.20 -3.20zM540.56 12.00v6.4l6.20 -3.20zM542.77 11.78v6.4l6.20 -3.20zM544.98 11.56v6.4l6.20 -3.20zM547.19 11.35v6.4l6.20 -3.20z"/>
<g font-family="Liberation Sans, Arial, sans-serif" font-size="16" fill="#000" letter-spacing="0.5">
<text x="57.8" y="459.40" text-anchor="end">0</text>
<text x="57.8" y="398.90" text-anchor="end">4</text>
<text x="57.8" y="338.40" text-anchor="end">8</text>
<text x="57.8" y="277.90" text-anchor="end">12</text>
<text x="57.8" y="217.40" text-anchor="end">16</text>
<text x="57.8" y="156.90" text-anchor="end">20</text>
<text x="57.8" y="96.40" text-anchor="end">24</text>
<text x="57.8" y="35.90" text-anchor="end">28</text>
<text x="72.65" y="483.6" text-anchor="middle">0</text>
<text x="138.95" y="483.6" text-anchor="middle">30</text>
<text x="205.25" y="483.6" text-anchor="middle">60</text>
<text x="271.55" y="483.6" text-anchor="middle">90</text>
<text x="337.85" y="483.6" text-anchor="middle">120</text>
<text x="404.15" y="483.6" text-anchor="middle">150</text>
<text x="470.45" y="483.6" text-anchor="middle">180</text>
<text x="536.75" y="483.6" text-anchor="middle">210</text>
<text x="603.05" y="483.6" text-anchor="middle">240</text>
<text x="669.35" y="483.6" text-anchor="middle">270</text>
</g>
<text x="376.5" y="516" text-anchor="middle" font-family="Liberation Sans, Arial, sans-serif" font-size="21" letter-spacing="0.3" fill="#000">Time (h)</text>
<g transform="translate(23.3,0) rotate(-90)" font-family="Liberation Sans, Arial, sans-serif" fill="#000">
<text x="-376.8" y="-12.3" font-size="12">222</text>
<text x="-356.5" y="0" font-size="21" letter-spacing="0.25">R<tspan dx="1">n</tspan> concentration (Bq <tspan dx="-1.2">m</tspan></text>
<text x="-130.4" y="-12.3" font-size="12">-3</text>
<text x="-118.5" y="0" font-size="21">)</text>
</g>
<text x="565.90" y="21.5" font-family="Liberation Sans, Arial, sans-serif" font-size="16.5" font-weight="bold" fill="#000"><tspan font-style="italic">T</tspan><tspan font-style="italic" font-size="10.2" dy="6.5">2</tspan><tspan dy="-6.5" dx="1.9">= 0.167 </tspan><tspan font-style="italic">R T</tspan><tspan font-style="italic" font-size="10.2" dy="6.5">1</tspan></text>
<text x="566.80" y="118.0" font-family="Liberation Sans, Arial, sans-serif" font-size="16.5" font-weight="bold" fill="#000"><tspan font-style="italic">T</tspan><tspan font-style="italic" font-size="10.2" dy="6.5">2</tspan><tspan dy="-6.5" dx="1.9">= 0.25 </tspan><tspan font-style="italic">R T</tspan><tspan font-style="italic" font-size="10.2" dy="6.5">1</tspan></text>
<text x="569.80" y="276.9" font-family="Liberation Sans, Arial, sans-serif" font-size="16.5" font-weight="bold" fill="#000"><tspan font-style="italic">T</tspan><tspan font-style="italic" font-size="10.2" dy="6.5">2</tspan><tspan dy="-6.5" dx="1.9">= 0.5 </tspan><tspan font-style="italic">R T</tspan><tspan font-style="italic" font-size="10.2" dy="6.5">1</tspan></text>
<text x="569.80" y="337.4" font-family="Liberation Sans, Arial, sans-serif" font-size="16.5" font-weight="bold" fill="#000"><tspan font-style="italic">T</tspan><tspan font-style="italic" font-size="10.2" dy="6.5">2</tspan><tspan dy="-6.5" dx="1.9">= </tspan><tspan font-style="italic">R T</tspan><tspan font-style="italic" font-size="10.2" dy="6.5">1</tspan></text>
<text x="568.50" y="392.4" font-family="Liberation Sans, Arial, sans-serif" font-size="16.5" font-weight="bold" fill="#000"><tspan font-style="italic">T</tspan><tspan font-style="italic" font-size="10.2" dy="6.5">2</tspan><tspan dy="-6.5" dx="1.9">= 2 </tspan><tspan font-style="italic">R T</tspan><tspan font-style="italic" font-size="10.2" dy="6.5">1</tspan></text>
<text x="569.80" y="426.9" font-family="Liberation Sans, Arial, sans-serif" font-size="16.5" font-weight="bold" fill="#000"><tspan font-style="italic">T</tspan><tspan font-style="italic" font-size="10.2" dy="6.5">2</tspan><tspan dy="-6.5" dx="1.9">= 4 </tspan><tspan font-style="italic">R T</tspan><tspan font-style="italic" font-size="10.2" dy="6.5">1</tspan></text>
</svg>
</body></html>
